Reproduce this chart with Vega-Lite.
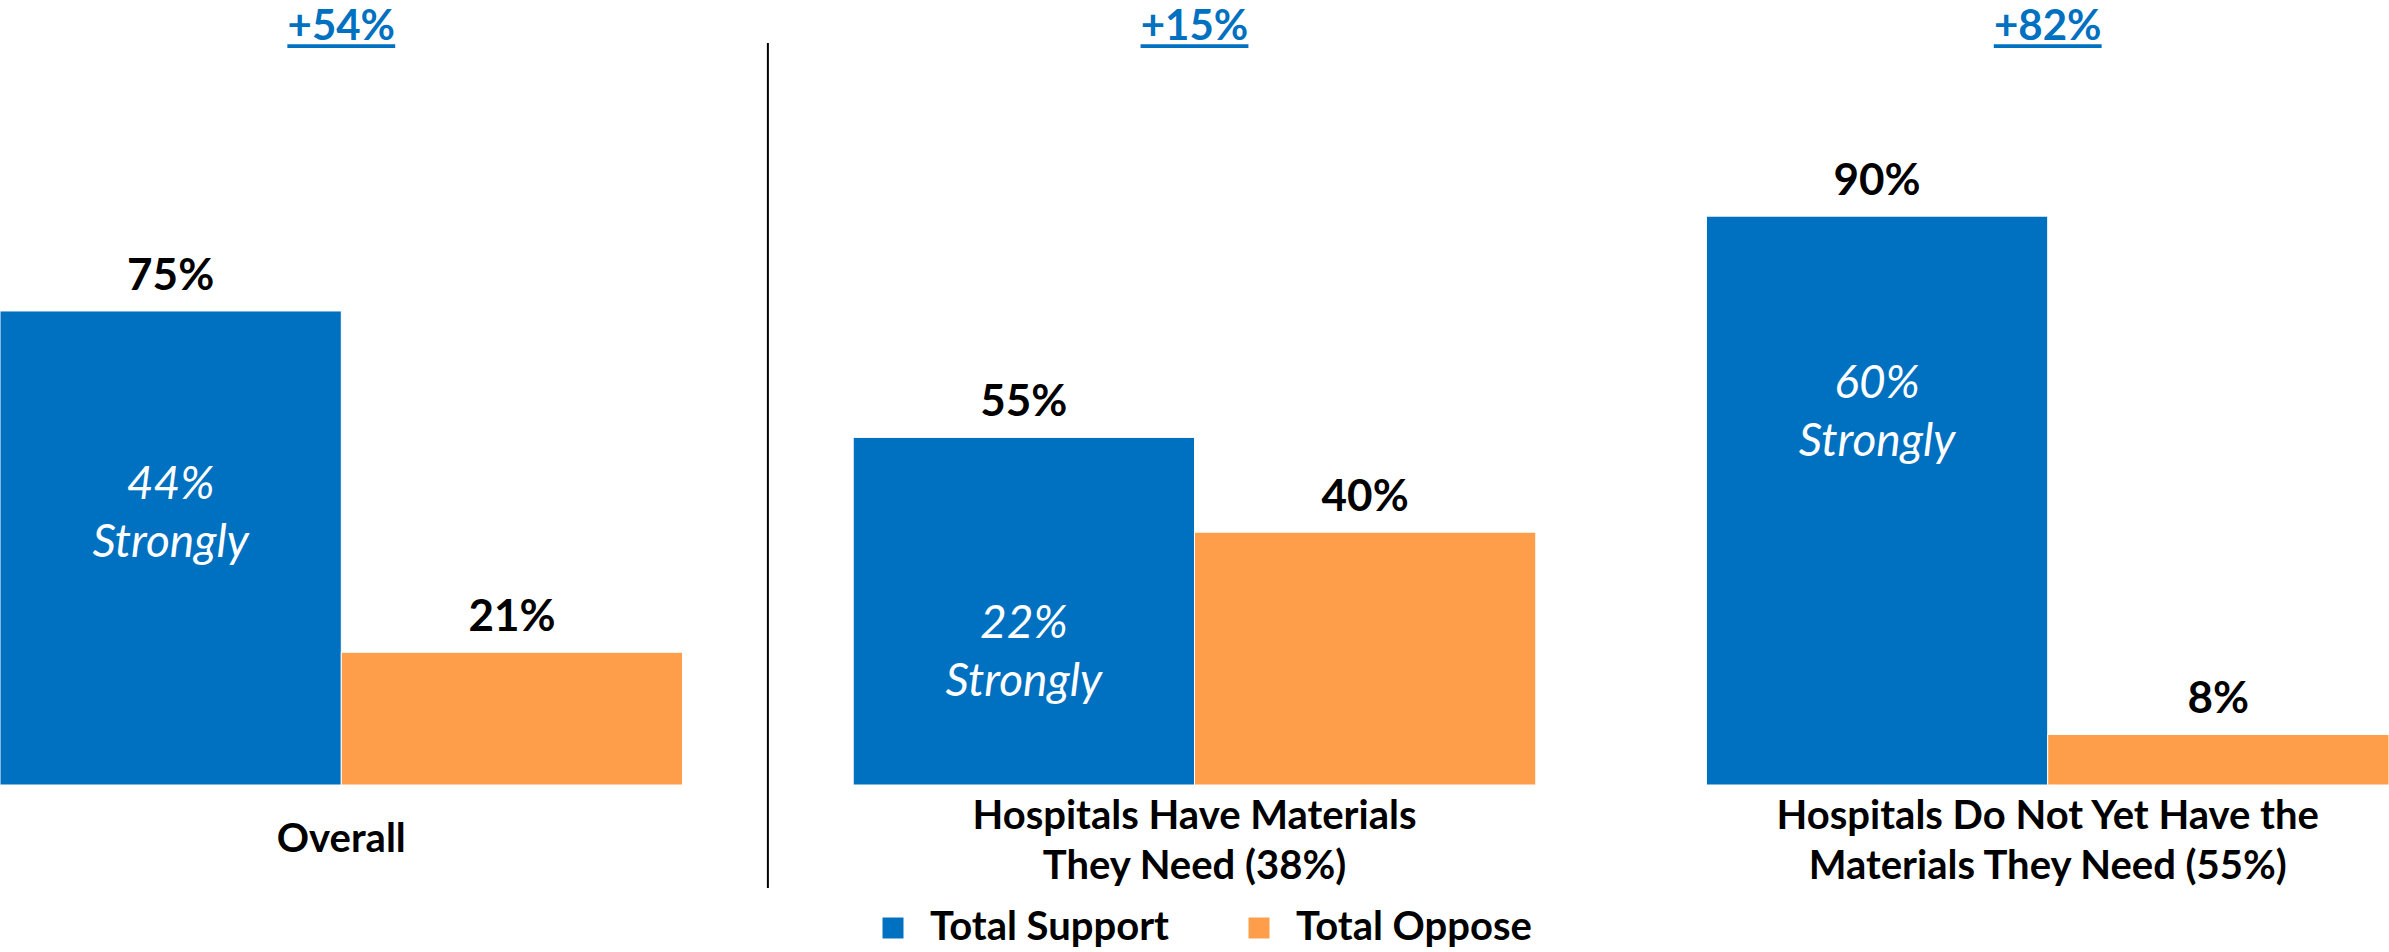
{
  "$schema": "https://vega.github.io/schema/vega-lite/v6.json",
  "width": 2389,
  "height": 785,
  "autosize": {"type": "none"},
  "padding": {"left": 0, "top": 0, "right": 0, "bottom": 167},
  "background": "#ffffff",
  "config": {
    "view": {"stroke": null},
    "font": "Lato",
    "legend": {
      "orient": "none",
      "legendX": 873,
      "legendY": 908,
      "direction": "horizontal",
      "symbolType": "square",
      "symbolSize": 440,
      "symbolStrokeWidth": 0,
      "labelFont": "Lato",
      "labelFontSize": 40,
      "labelFontWeight": "bold",
      "labelColor": "#000000",
      "labelOffset": 17,
      "columnPadding": 70,
      "padding": 0,
      "labelLimit": 0
    }
  },
  "datasets": {
    "bars": [
      {"group": "Overall", "series": "Total Support", "value": 0.75, "strongly": 0.44, "inner": "44%|Strongly"},
      {"group": "Overall", "series": "Total Oppose", "value": 0.21},
      {"group": "Hospitals Have Materials|They Need (38%)", "series": "Total Support", "value": 0.55, "strongly": 0.22, "inner": "22%|Strongly"},
      {"group": "Hospitals Have Materials|They Need (38%)", "series": "Total Oppose", "value": 0.40},
      {"group": "Hospitals Do Not Yet Have the|Materials They Need (55%)", "series": "Total Support", "value": 0.90, "strongly": 0.60, "inner": "60%|Strongly"},
      {"group": "Hospitals Do Not Yet Have the|Materials They Need (55%)", "series": "Total Oppose", "value": 0.08}
    ],
    "diffs": [
      {"group": "Overall", "diff": "+54%"},
      {"group": "Hospitals Have Materials|They Need (38%)", "diff": "+15%"},
      {"group": "Hospitals Do Not Yet Have the|Materials They Need (55%)", "diff": "+82%"}
    ]
  },
  "encoding": {
    "x": {
      "field": "group",
      "type": "nominal",
      "sort": null,
      "scale": {
        "domain": ["Overall", "Hospitals Have Materials|They Need (38%)", "Hospitals Do Not Yet Have the|Materials They Need (55%)"],
        "paddingInner": 0.2,
        "paddingOuter": 0
      },
      "axis": {
        "title": null,
        "domain": false,
        "ticks": false,
        "tickSize": 0,
        "labelAngle": 0,
        "labelExpr": "split(datum.label, '|')",
        "labelFont": "Lato",
        "labelFontSize": 40,
        "labelFontWeight": "bold",
        "labelColor": "#000000",
        "labelLineHeight": 50,
        "labelBaseline": "middle",
        "labelPadding": {"condition": {"test": "indexof(datum.value, '|') < 0", "value": 54}, "value": 31},
        "labelLimit": 0
      }
    }
  },
  "layer": [
    {
      "data": {"name": "bars"},
      "mark": {"type": "bar", "stroke": "#ffffff", "strokeWidth": 1},
      "encoding": {
        "xOffset": {"field": "series", "type": "nominal", "scale": {"domain": ["Total Support", "Total Oppose"], "paddingInner": 0, "paddingOuter": 0}},
        "y": {"field": "value", "type": "quantitative", "scale": {"domain": [0, 1.242], "nice": false, "zero": true}, "axis": null},
        "color": {
          "field": "series",
          "type": "nominal",
          "scale": {"domain": ["Total Support", "Total Oppose"], "range": ["#0070C0", "#FF9E4A"]},
          "legend": {"title": null}
        }
      }
    },
    {
      "data": {"name": "bars"},
      "mark": {"type": "text", "font": "Lato", "fontSize": 44, "fontWeight": "bold", "color": "#000000", "baseline": "alphabetic", "dy": -21},
      "encoding": {
        "xOffset": {"field": "series", "type": "nominal"},
        "y": {"field": "value", "type": "quantitative"},
        "text": {"field": "value", "type": "quantitative", "format": ".0%"}
      }
    },
    {
      "data": {"name": "bars"},
      "transform": [{"filter": "datum.inner != null"}],
      "mark": {"type": "text", "font": "Lato", "fontSize": 46, "fontStyle": "italic", "color": "#ffffff", "baseline": "middle", "lineBreak": "|", "lineHeight": 58, "dy": -22},
      "encoding": {
        "xOffset": {"field": "series", "type": "nominal"},
        "y": {"field": "strongly", "type": "quantitative"},
        "text": {"field": "inner", "type": "nominal"}
      }
    },
    {
      "data": {"name": "diffs"},
      "mark": {"type": "text", "font": "Lato", "fontSize": 42, "fontWeight": "bold", "color": "#0070C0", "baseline": "middle"},
      "encoding": {
        "y": {"datum": 1.2, "type": "quantitative"},
        "text": {"field": "diff", "type": "nominal"}
      }
    },
    {
      "data": {"name": "diffs"},
      "mark": {"type": "bar", "color": "#0070C0", "width": {"band": 0.158}},
      "encoding": {
        "y": {"datum": 1.172, "type": "quantitative"},
        "y2": {"datum": 1.166}
      }
    },
    {
      "data": {"name": "diffs"},
      "transform": [{"filter": "datum.group == 'Overall'"}],
      "mark": {"type": "rule", "color": "#000000", "strokeWidth": 2},
      "encoding": {
        "x": {"field": "group", "type": "nominal", "bandPosition": 1.125},
        "y": {"datum": 1.174, "type": "quantitative"},
        "y2": {"datum": -0.163}
      }
    }
  ]
}
